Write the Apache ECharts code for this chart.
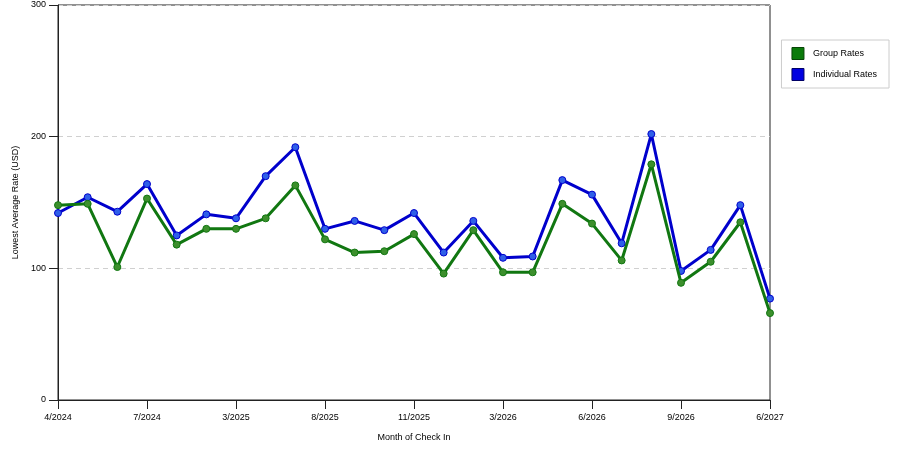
<!DOCTYPE html>
<html>
<head>
<meta charset="utf-8">
<script src="https://cdn.jsdelivr.net/npm/echarts@6/dist/echarts.min.js"></script>
<style>html,body{margin:0;padding:0;background:#fff;}#c{width:900px;height:450px;}</style>
</head>
<body>
<div id="c"></div>
<script>
const categories = ['4/2024','5/2024','6/2024','7/2024','9/2024','12/2024','3/2025','5/2025','7/2025','8/2025','9/2025','10/2025','11/2025','12/2025','2/2026','3/2026','4/2026','5/2026','6/2026','7/2026','8/2026','9/2026','12/2026','3/2027','6/2027'];
const groupRates = [148, 149, 101, 153, 118, 130, 130, 138, 163, 122, 112, 113, 126, 96, 129, 97, 97, 149, 134, 106, 179, 89, 105, 135, 66];
const individualRates = [142, 154, 143, 164, 125, 141, 138, 170, 192, 130, 136, 129, 142, 112, 136, 108, 109, 167, 156, 119, 202, 98, 114, 148, 77];
const yTicks = [0, 100, 200, 300];

const font = 'Liberation Sans, Arial, sans-serif';
const chart = echarts.init(document.getElementById('c'), null, {renderer: 'canvas'});
function series(name, data, line, fill) {
  return {
    name, type: 'line', data,
    lineStyle: {color: line, width: 3},
    itemStyle: {color: fill, borderColor: line, borderWidth: 1},
    symbol: 'circle', symbolSize: 7, showSymbol: true,
    emphasis: {disabled: true}, animation: false, z: name === 'Group Rates' ? 3 : 2
  };
}
chart.setOption({
  animation: false,
  grid: {left: 58, right: 130, top: 5, bottom: 50, show: true, borderColor: '#222', borderWidth: 1, backgroundColor: 'transparent'},
  legend: {
    right: 11, top: 40, orient: 'vertical', itemWidth: 12, itemHeight: 12, itemGap: 8,
    padding: [7, 12, 7, 10], borderColor: '#ccc', borderWidth: 1,
    textStyle: {fontFamily: font, fontSize: 9, color: '#000', padding: [0, 0, 0, 4]},
    icon: 'rect',
    data: [
      {name: 'Group Rates', itemStyle: {color: '#0a7a0a', borderColor: '#064406', borderWidth: 1}},
      {name: 'Individual Rates', itemStyle: {color: '#0000e0', borderColor: '#000066', borderWidth: 1}}
    ]
  },
  xAxis: {
    type: 'category', data: categories, boundaryGap: false,
    name: 'Month of Check In', nameLocation: 'middle', nameGap: 33,
    nameTextStyle: {fontFamily: font, fontSize: 9, color: '#000'},
    axisLine: {lineStyle: {color: '#222'}},
    axisTick: {show: true, interval: 2, length: 9, lineStyle: {color: '#222'}},
    axisLabel: {interval: 2, fontFamily: font, fontSize: 9, color: '#000', margin: 13},
    splitLine: {show: false}
  },
  yAxis: {
    type: 'value', min: 0, max: 300, interval: 100,
    name: 'Lowest Average Rate (USD)', nameLocation: 'middle', nameGap: 35,
    nameTextStyle: {fontFamily: font, fontSize: 9, color: '#000'},
    axisLine: {show: true, lineStyle: {color: '#222'}},
    axisTick: {show: true, length: 9, lineStyle: {color: '#222'}},
    axisLabel: {fontFamily: font, fontSize: 9, color: '#000', margin: 12,
      formatter: v => yTicks.includes(v) ? String(v) : ''},
    splitLine: {show: true, lineStyle: {color: '#d0d0d0', type: [5, 4]}}
  },
  series: [
    series('Individual Rates', individualRates, '#0000cc', '#2f5fe8'),
    series('Group Rates', groupRates, '#117711', '#3c8f2c')
  ]
});
</script>
</body>
</html>
